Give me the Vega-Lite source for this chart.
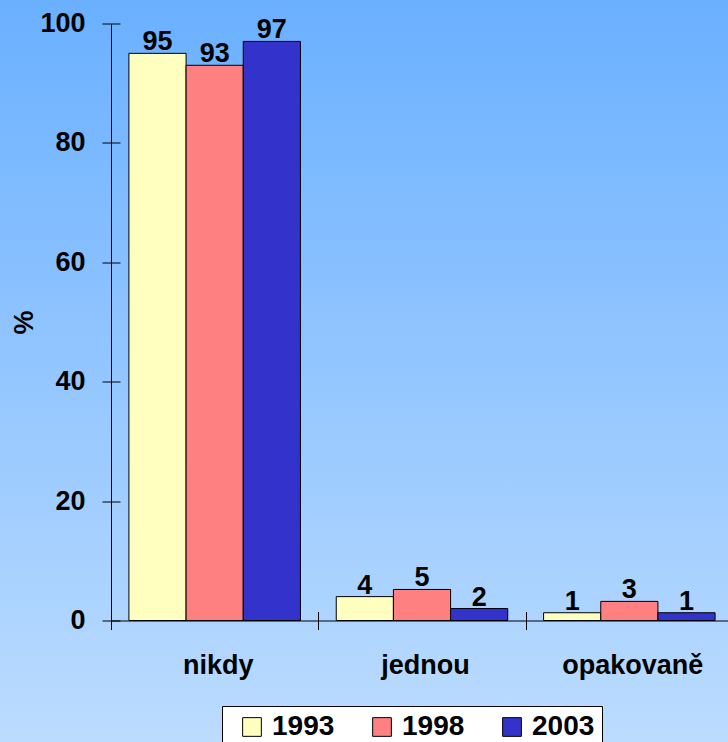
{
  "$schema": "https://vega.github.io/schema/vega-lite/v6.json",
  "width": 617,
  "height": 597,
  "autosize": {"type": "none"},
  "padding": {"left": 111, "top": 23.5, "right": 0, "bottom": 121.5},
  "background": "#93c5ff",
  "view": {
    "fill": {"gradient": "linear", "x1": 0, "y1": -0.0394, "x2": 0, "y2": 1.2035,
      "stops": [{"offset": 0, "color": "#6ab0ff"}, {"offset": 1, "color": "#bcdcff"}]},
    "stroke": {"gradient": "linear", "x1": 0, "y1": -0.0394, "x2": 0, "y2": 1.2035,
      "stops": [{"offset": 0, "color": "#6ab0ff"}, {"offset": 1, "color": "#bcdcff"}]},
    "strokeWidth": 260
  },
  "config": {
    "font": "Liberation Sans",
    "axis": {"grid": false, "domainColor": "black", "tickColor": "black", "labelColor": "black", "titleColor": "black"}
  },
  "data": {
    "values": [
      {"cat": "nikdy", "year": "1993", "pct": 95},
      {"cat": "nikdy", "year": "1998", "pct": 93},
      {"cat": "nikdy", "year": "2003", "pct": 97},
      {"cat": "jednou", "year": "1993", "pct": 4},
      {"cat": "jednou", "year": "1998", "pct": 5.2},
      {"cat": "jednou", "year": "2003", "pct": 2},
      {"cat": "opakovaně", "year": "1993", "pct": 1.3},
      {"cat": "opakovaně", "year": "1998", "pct": 3.2},
      {"cat": "opakovaně", "year": "2003", "pct": 1.3}
    ]
  },
  "layer": [
    {
      "mark": {"type": "bar", "stroke": "black", "strokeWidth": 1},
      "encoding": {
        "x": {
          "field": "cat", "type": "nominal", "sort": ["nikdy", "jednou", "opakovaně"], "title": null,
          "scale": {"paddingInner": 0, "paddingOuter": 0, "range": [0, 622]},
          "axis": {"orient": "bottom", "tickBand": "extent", "tickSize": 9, "labelPadding": 22.5, "labelOffset": 3,
            "labelFontSize": 27, "labelFontWeight": "bold", "labelAngle": 0, "domainColor": "black"}
        },
        "xOffset": {"field": "year", "type": "nominal", "sort": ["1993", "1998", "2003"], "scale": {"paddingInner": 0, "paddingOuter": 0.3135}},
        "y": {
          "field": "pct", "type": "quantitative", "title": "%",
          "scale": {"domain": [0, 100], "nice": false},
          "axis": {"orient": "left", "values": [0, 20, 40, 60, 80, 100], "tickSize": 9, "labelPadding": 17,
            "labelFontSize": 27, "labelFontWeight": "bold", "titleFontSize": 27, "titleFontWeight": "bold", "titlePadding": 1}
        },
        "color": {
          "field": "year", "type": "nominal", "title": null,
          "scale": {"domain": ["1993", "1998", "2003"], "range": ["#ffffc0", "#ff8080", "#3333cc"]},
          "legend": {"orient": "none", "legendX": 111, "legendY": 682.5, "direction": "horizontal", "columns": 3,
            "fillColor": "white", "strokeColor": "black", "padding": 7,
            "symbolType": "square", "symbolSize": 350, "symbolStrokeColor": "black", "symbolStrokeWidth": 1, "symbolOpacity": 1,
            "symbolOffset": 9, "labelOffset": 6, "columnPadding": 24,
            "labelFontSize": 28, "labelFontWeight": "bold", "labelColor": "black", "labelLimit": 200}
        }
      }
    },
    {
      "mark": {"type": "text", "baseline": "alphabetic", "dy": -3, "fontSize": 27, "fontWeight": "bold", "color": "black"},
      "encoding": {
        "x": {
          "field": "cat", "type": "nominal", "sort": ["nikdy", "jednou", "opakovaně"], "title": null,
          "axis": {"orient": "bottom", "offset": -9, "tickBand": "extent", "tickSize": 9, "labels": false, "domain": false, "title": null}
        },
        "xOffset": {"field": "year", "type": "nominal", "sort": ["1993", "1998", "2003"]},
        "y": {
          "field": "pct", "type": "quantitative",
          "axis": {"orient": "left", "offset": -9, "values": [0, 20, 40, 60, 80, 100], "tickSize": 9, "labels": false, "domain": false, "title": null}
        },
        "text": {"field": "pct", "type": "quantitative", "format": ".0f"}
      }
    }
  ],
  "resolve": {"axis": {"x": "independent", "y": "independent"}}
}
